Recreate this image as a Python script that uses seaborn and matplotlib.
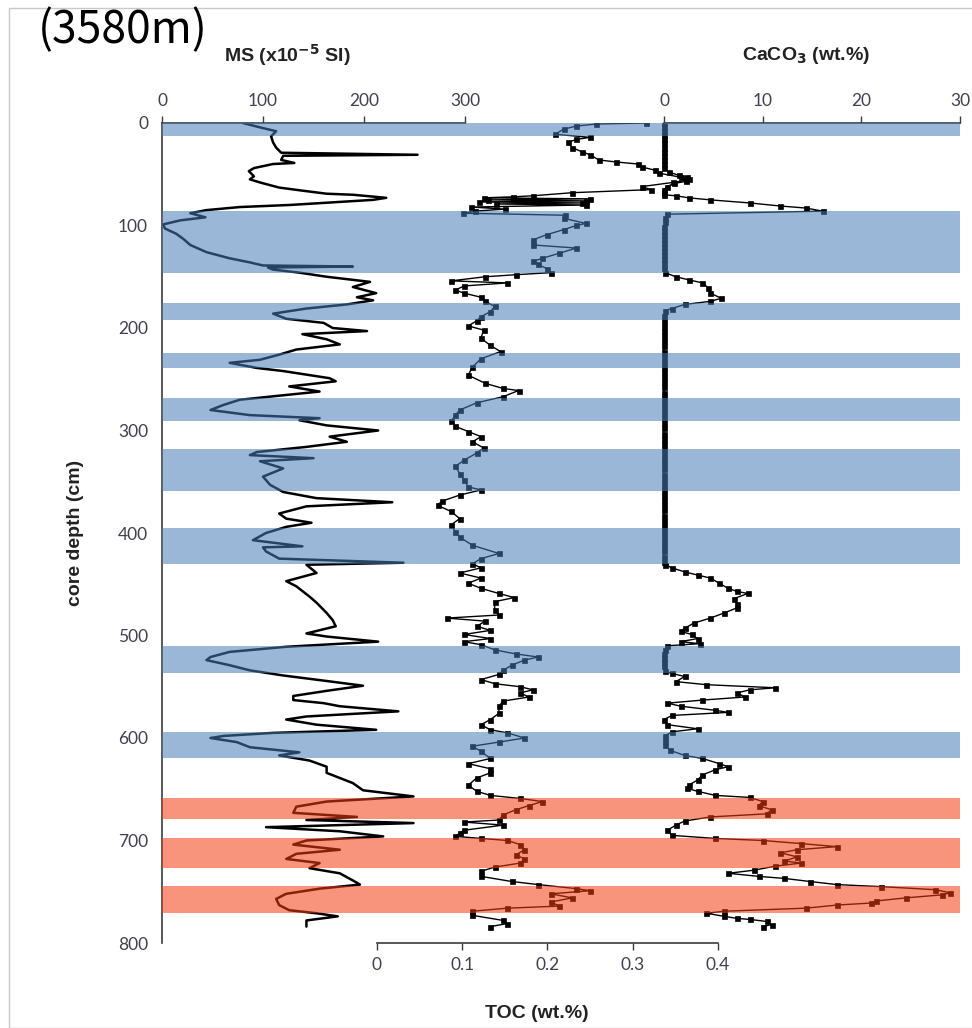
import numpy as np
import pandas as pd
import matplotlib
matplotlib.use('Agg')
from matplotlib import pyplot as plt
from matplotlib.patches import Rectangle
import seaborn as sns

# ---- values ----
ms_depth = [0, 5, 8, 13, 19, 24, 29, 31, 32, 36, 39, 40, 44, 47, 52, 55, 58, 63, 66, 69,
            70, 73, 75, 77, 80, 82, 85, 88, 92, 95, 99, 103, 108, 113, 119, 126, 132, 136, 139, 140,
            141, 143, 146, 150, 155, 160, 166, 170, 173, 177, 181, 186, 191, 195, 200, 203, 206, 211, 216, 221,
            226, 231, 234, 239, 242, 246, 249, 252, 257, 262, 266, 270, 275, 280, 285, 288, 290, 295, 300, 306,
            311, 316, 321, 324, 327, 330, 337, 345, 353, 360, 366, 370, 374, 381, 386, 390, 394, 400, 407, 413,
            414, 418, 425, 429, 431, 439, 447, 452, 462, 468, 478, 485, 491, 498, 501, 506, 511, 516, 521, 524,
            529, 534, 539, 544, 549, 554, 559, 563, 566, 569, 574, 579, 582, 587, 592, 595, 598, 600, 604, 609,
            614, 617, 622, 628, 634, 639, 644, 651, 657, 662, 667, 673, 677, 680, 683, 687, 691, 696, 700, 704,
            709, 713, 718, 722, 727, 732, 739, 743, 747, 752, 757, 763, 768, 771, 774, 778, 784]
ms_value = [80, 100, 113, 108, 110, 113, 118, 253, 120, 118, 131, 110, 91, 86, 91, 87, 97, 116, 139, 163,
            189, 222, 209, 176, 126, 77, 44, 28, 43, 18, 1, 3, 14, 21, 28, 44, 67, 87, 100, 189,
            105, 110, 136, 163, 206, 189, 212, 193, 209, 183, 143, 110, 123, 160, 169, 203, 139, 163, 176, 133,
            116, 97, 67, 94, 120, 146, 166, 172, 126, 156, 116, 77, 61, 48, 87, 156, 136, 163, 214, 166,
            183, 143, 94, 87, 150, 97, 120, 100, 107, 120, 153, 228, 143, 116, 123, 148, 123, 103, 90, 139,
            100, 103, 116, 239, 143, 153, 123, 133, 146, 153, 163, 169, 172, 143, 163, 214, 123, 67, 48, 44,
            67, 87, 120, 160, 199, 163, 130, 130, 160, 176, 234, 143, 123, 153, 212, 110, 61, 48, 74, 87,
            136, 116, 146, 163, 163, 176, 189, 199, 249, 163, 133, 130, 193, 143, 249, 103, 176, 219, 143, 130,
            176, 133, 123, 156, 146, 176, 189, 196, 156, 123, 113, 116, 126, 153, 174, 143, 143]

toc_depth = [0, 1, 3, 6, 11, 14, 16, 19, 24, 28, 31, 36, 38, 40, 43, 46, 49, 53, 56, 58,
             62, 65, 68, 71, 72, 73, 74, 75, 76, 77, 78, 79, 80, 82, 84, 86, 88, 90, 93, 98,
             100, 104, 109, 114, 119, 122, 127, 132, 135, 138, 142, 146, 148, 150, 154, 156, 159, 163, 166, 170,
             174, 179, 184, 189, 193, 198, 202, 210, 217, 223, 230, 238, 246, 254, 259, 261, 267, 273, 280, 285,
             291, 296, 301, 306, 311, 317, 322, 329, 335, 342, 348, 355, 358, 363, 369, 373, 379, 386, 392, 399,
             404, 412, 420, 425, 430, 434, 439, 444, 449, 454, 459, 463, 467, 475, 480, 483, 486, 491, 495, 499,
             503, 506, 509, 514, 518, 521, 524, 529, 534, 538, 543, 547, 550, 553, 556, 560, 564, 569, 576, 582,
             587, 592, 595, 600, 604, 608, 613, 620, 625, 630, 634, 639, 646, 652, 656, 659, 662, 666, 670, 675,
             680, 682, 685, 690, 693, 696, 698, 700, 704, 709, 714, 718, 722, 726, 730, 735, 740, 743, 747, 749,
             752, 756, 760, 764, 766, 769, 773, 778, 781, 784]
toc_value = [0.316, 0.257, 0.234, 0.219, 0.209, 0.250, 0.234, 0.224, 0.229, 0.240, 0.250, 0.260, 0.280, 0.306, 0.311, 0.326, 0.331, 0.357, 0.362, 0.347,
             0.311, 0.321, 0.229, 0.183, 0.160, 0.125, 0.250, 0.130, 0.245, 0.120, 0.240, 0.140, 0.245, 0.110, 0.150, 0.115, 0.101, 0.221, 0.219, 0.245,
             0.234, 0.219, 0.199, 0.183, 0.183, 0.234, 0.214, 0.194, 0.183, 0.189, 0.199, 0.204, 0.163, 0.127, 0.087, 0.153, 0.102, 0.092, 0.102, 0.122,
             0.127, 0.138, 0.133, 0.122, 0.117, 0.107, 0.125, 0.122, 0.133, 0.145, 0.122, 0.112, 0.107, 0.127, 0.148, 0.166, 0.148, 0.117, 0.097, 0.092,
             0.087, 0.092, 0.107, 0.122, 0.112, 0.125, 0.117, 0.102, 0.092, 0.097, 0.102, 0.107, 0.122, 0.097, 0.076, 0.071, 0.087, 0.097, 0.087, 0.092,
             0.097, 0.112, 0.143, 0.122, 0.112, 0.122, 0.097, 0.122, 0.107, 0.122, 0.143, 0.161, 0.138, 0.138, 0.143, 0.082, 0.127, 0.117, 0.133, 0.102,
             0.133, 0.102, 0.122, 0.138, 0.163, 0.189, 0.173, 0.158, 0.148, 0.143, 0.122, 0.138, 0.168, 0.183, 0.168, 0.178, 0.148, 0.143, 0.143, 0.133,
             0.122, 0.133, 0.153, 0.173, 0.143, 0.112, 0.122, 0.133, 0.107, 0.133, 0.133, 0.117, 0.107, 0.117, 0.133, 0.168, 0.194, 0.178, 0.163, 0.148,
             0.143, 0.102, 0.148, 0.102, 0.097, 0.092, 0.122, 0.153, 0.168, 0.173, 0.163, 0.173, 0.168, 0.138, 0.122, 0.122, 0.158, 0.189, 0.234, 0.250,
             0.204, 0.229, 0.204, 0.214, 0.153, 0.112, 0.112, 0.148, 0.153, 0.133]

caco3_depth = [0, 4, 8, 12, 16, 20, 24, 28, 32, 36, 40, 44, 48, 51, 53, 55, 57, 59, 62, 65,
               68, 70, 71, 73, 75, 78, 81, 83, 86, 89, 93, 97, 101, 105, 109, 113, 117, 121, 125, 129,
               133, 137, 141, 146, 150, 153, 156, 161, 166, 171, 174, 177, 181, 183, 188, 193, 198, 203, 208, 213,
               218, 223, 228, 233, 238, 243, 248, 253, 258, 263, 268, 273, 278, 283, 288, 293, 298, 303, 308, 313,
               318, 323, 328, 333, 338, 343, 348, 353, 358, 363, 368, 373, 378, 383, 388, 393, 398, 403, 408, 413,
               418, 423, 428, 431, 434, 438, 441, 444, 449, 454, 457, 459, 464, 469, 473, 478, 483, 488, 493, 496,
               499, 503, 506, 508, 510, 514, 518, 522, 526, 530, 535, 537, 540, 545, 548, 551, 553, 556, 560, 563,
               566, 569, 573, 575, 578, 582, 587, 591, 594, 598, 603, 607, 612, 617, 620, 625, 628, 631, 636, 641,
               646, 649, 652, 656, 658, 662, 666, 670, 674, 677, 681, 685, 690, 695, 698, 700, 703, 706, 709, 712,
               716, 720, 722, 725, 729, 732, 735, 737, 740, 743, 745, 748, 751, 753, 756, 759, 761, 763, 766, 769,
               771, 774, 776, 777, 779, 782, 784]
caco3_value = [0, 0, 0, 0, 0, 0, 0, 0, 0, 0, 0, 0, 0.5, 1.5, 2.3, 2.5, 2.2, 1.0, 0.3, 0,
               0, 0, 1.2, 2.5, 4.7, 8.7, 11.8, 14.4, 16.1, 0.3, 0.1, 0.1, 0, 0, 0, 0, 0, 0, 0, 0,
               0, 0, 0, 0.1, 1.2, 2.5, 3.9, 4.5, 4.7, 5.8, 4.7, 2.1, 0.8, 0.1, 0, 0, 0, 0, 0, 0,
               0, 0, 0, 0, 0, 0, 0, 0, 0, 0, 0, 0, 0, 0, 0, 0, 0, 0, 0, 0,
               0, 0, 0, 0, 0, 0, 0, 0, 0, 0, 0, 0, 0, 0, 0, 0, 0, 0, 0, 0,
               0, 0, 0, 0.1, 0.8, 2.1, 3.4, 4.7, 5.6, 6.5, 7.4, 8.5, 7.1, 7.4, 7.4, 6.1, 4.7, 3.0, 2.1, 1.7,
               2.8, 3.4, 1.7, 3.6, 0.35, 0.1, 0, 0, 0, 0, 0.1, 0.8, 2.1, 1.2, 4.3, 11.3, 8.7, 7.4, 8.2, 3.9,
               0.35, 1.7, 5.2, 6.5, 0.8, 0, 0.35, 3.4, 0.8, 0.1, 0.1, 0.1, 0.6, 2.1, 3.9, 5.6, 6.5, 5.2, 3.9, 3.4,
               2.5, 2.3, 3.4, 5.2, 8.7, 10.0, 9.6, 10.9, 10.4, 4.7, 2.1, 1.2, 0.35, 0.8, 5.2, 10.0, 13.9, 17.5, 13.5, 11.8,
               13.5, 12.2, 13.9, 11.3, 9.1, 6.5, 9.6, 12.2, 14.8, 17.5, 22.0, 27.5, 29.0, 28.2, 24.5, 21.5, 21.0, 17.5, 14.4, 6.1,
               4.3, 6.1, 7.4, 8.7, 10.4, 10.9, 10.0]

blue_bands = [(0, 13), (86, 146), (176, 192), (224, 239), (268, 291),
              (318, 359), (395, 430), (510, 537), (594, 620)]
red_bands = [(659, 679), (698, 727), (744, 771)]

depth_ticks = [0, 100, 200, 300, 400, 500, 600, 700, 800]
ms_ticks = [0, 100, 200, 300]
caco3_ticks = [0, 10, 20, 30]
toc_ticks = [0, 0.1, 0.2, 0.3, 0.4]
toc_ticklabels = ['0', '0.1', '0.2', '0.3', '0.4']

sns.set_style('white')
plt.rcParams['font.family'] = ['Liberation Sans', 'DejaVu Sans']

W, H = 972, 1028
fig = plt.figure(figsize=(W / 100, H / 100), dpi=100)
ax = fig.add_axes([162 / W, 1 - 943 / H, 798 / W, 820 / H])
ax_toc = ax.twiny()
ax_ca = ax.twiny()
ax_band = ax.twiny()

ms = pd.DataFrame({'depth': ms_depth, 'MS': ms_value})
toc = pd.DataFrame({'depth': toc_depth, 'TOC': toc_value})
ca = pd.DataFrame({'depth': caco3_depth, 'CaCO3': caco3_value})

sns.lineplot(data=ms, x='MS', y='depth', sort=False, orient='y', estimator=None,
             color='black', lw=1.8, ax=ax)
mk = dict(marker='s', markersize=3.6, markeredgecolor='black', markeredgewidth=0.5)
sns.lineplot(data=toc, x='TOC', y='depth', sort=False, orient='y', estimator=None,
             color='black', lw=1.0, ax=ax_toc, **mk)
sns.lineplot(data=ca, x='CaCO3', y='depth', sort=False, orient='y', estimator=None,
             color='black', lw=1.0, ax=ax_ca, **mk)

# shaded intervals sit on top of the curves, like in the original
for top, bot in blue_bands:
    ax_band.axhspan(top, bot, color='#497cb6', alpha=0.55, lw=0)
for top, bot in red_bands:
    ax_band.axhspan(top, bot, color='#f53c10', alpha=0.55, lw=0)
ax_band.set_xlim(0, 1)
ax_band.axis('off')

# x scales chosen so that every axis lands where it is in the picture
ax.set_xlim(0, 790.1)
ax_toc.set_xlim(-0.2522, 0.6839)
ax_ca.set_xlim(-50.88, 30)
ax.set_ylim(800, 0)

spine_c = '#3c3c3c'
label_c = '#404050'
for a in [ax, ax_toc, ax_ca]:
    for s in a.spines.values():
        s.set_visible(False)
    a.set_xlabel('')
    a.set_ylabel('')

ax.spines['left'].set_visible(True)
ax.spines['left'].set_bounds(0, 800)
ax.spines['top'].set_visible(True)
ax.spines['top'].set_bounds(0, 300)
ax.xaxis.tick_top()
ax.set_xticks(ms_ticks)
ax.set_yticks(depth_ticks)

ax_ca.spines['top'].set_visible(True)
ax_ca.spines['top'].set_bounds(0, 30)
ax_ca.xaxis.set_ticks_position('top')
ax_ca.set_xticks(caco3_ticks)

ax_toc.spines['bottom'].set_visible(True)
ax_toc.spines['bottom'].set_bounds(0, 0.4)
ax_toc.xaxis.set_ticks_position('bottom')
ax_toc.set_xticks(toc_ticks)
ax_toc.set_xticklabels(toc_ticklabels)

for a in [ax, ax_toc, ax_ca]:
    for s in a.spines.values():
        s.set_color(spine_c)
        s.set_linewidth(1.2)
    a.tick_params(axis='both', direction='out', length=5, width=1, color=spine_c,
                  labelsize=12.5, labelcolor=label_c, pad=5)
    for lab in a.get_xticklabels() + a.get_yticklabels():
        lab.set_family(['Lato', 'DejaVu Sans'])

fig.text(287 / W, 1 - 55 / H, r'MS (x10$^{\mathbf{-5}}$ SI)', ha='center', va='center',
         fontsize=14, fontweight='bold', color='#222222')
fig.text(806 / W, 1 - 55 / H, r'CaCO$_{\mathbf{3}}$ (wt.%)', ha='center', va='center',
         fontsize=14, fontweight='bold', color='#222222')
fig.text(537 / W, 1 - 1013 / H, 'TOC (wt.%)', ha='center', va='center',
         fontsize=14, fontweight='bold', color='#222222')
fig.text(75 / W, 1 - 533 / H, 'core depth (cm)', ha='center', va='center', rotation=90,
         fontsize=14, fontweight='bold', color='#222222')
fig.text(38 / W, 1 - 30 / H, '(3580m)', ha='left', va='center', fontsize=32,
         family=['Noto Sans CJK KR', 'DejaVu Sans'], color='black')

fig.patches.append(Rectangle((9 / W, 0), 1, 1 - 8 / H, transform=fig.transFigure,
                             fill=False, ec='#c8c8c8', lw=1.0, zorder=0))

fig.savefig('out.png', dpi=100)
